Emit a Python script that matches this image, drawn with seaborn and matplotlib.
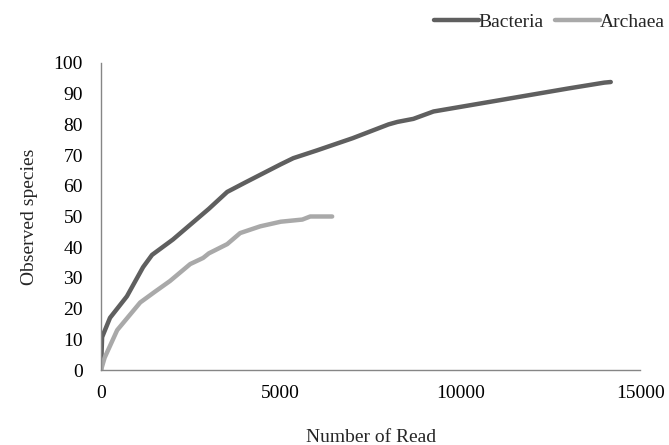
"""Rarefaction curves: Bacteria vs Archaea."""

import matplotlib.pyplot as plt
import pandas as pd
import seaborn as sns

bacteria_reads = [0, 30, 250, 720, 1170, 1420, 2000, 2500, 3000, 3510, 4000, 4500,
                  5000, 5350, 6000, 7000, 8000, 8245, 8690, 9250, 10000, 11000,
                  12000, 13000, 14000, 14180]
bacteria_species = [0, 10.7, 17, 24, 33.5, 37.5, 42.5, 47.5, 52.5, 58, 61, 64,
                    67, 69, 71.5, 75.5, 80, 80.8, 81.8, 84.2, 85.7, 87.7,
                    89.7, 91.7, 93.6, 93.8]

archaea_reads = [0, 100, 450, 1090, 1500, 1920, 2480, 2840, 3000, 3510, 3870,
                 4430, 5000, 5600, 5820, 6430]
archaea_species = [0, 4, 13, 22, 25.5, 29, 34.5, 36.5, 38, 41, 44.6,
                   46.8, 48.3, 49, 50, 50]

series_names = ["Bacteria", "Archaea"]
series_colors = ["#5f5f5f", "#a9a9a9"]

df = pd.concat(
    [
        pd.DataFrame({"reads": bacteria_reads, "species": bacteria_species, "group": "Bacteria"}),
        pd.DataFrame({"reads": archaea_reads, "species": archaea_species, "group": "Archaea"}),
    ],
    ignore_index=True,
)

sns.set_theme(style="white")
plt.rcParams["font.family"] = ["Liberation Serif", "DejaVu Serif"]
FS = 14

fig = plt.figure(figsize=(6.69, 4.45), dpi=100)
ax = fig.add_axes([0.151, 0.1685, 0.806, 0.69])

sns.lineplot(
    data=df,
    x="reads",
    y="species",
    hue="group",
    hue_order=series_names,
    palette=series_colors,
    linewidth=3.2,
    sort=False,
    estimator=None,
    ax=ax,
)
for line in ax.get_lines():
    line.set_solid_capstyle("round")
    line.set_solid_joinstyle("round")

ax.set_xlim(0, 15000)
ax.set_ylim(0, 100)
ax.set_xticks([0, 5000, 10000, 15000])
ax.set_yticks(range(0, 101, 10))
ax.tick_params(axis="both", length=0, labelsize=FS, colors="black")
ax.tick_params(axis="x", pad=11)
ax.tick_params(axis="y", pad=13)

for side in ["top", "right"]:
    ax.spines[side].set_visible(False)
for side in ["left", "bottom"]:
    ax.spines[side].set_color("#868686")
    ax.spines[side].set_linewidth(1)

ax.set_xlabel("Number of Read", fontsize=FS, labelpad=19)
ax.set_ylabel("Observed species", fontsize=FS, labelpad=11)

leg = ax.legend(
    loc="upper right",
    bbox_to_anchor=(1.0, 0.978),
    bbox_transform=fig.transFigure,
    borderaxespad=0,
    borderpad=0.2,
    ncol=2,
    frameon=False,
    handlelength=2.3,
    handletextpad=0.0,
    columnspacing=0.6,
    fontsize=FS,
)
for handle in leg.get_lines():
    handle.set_linewidth(3.2)

fig.savefig("out.png", dpi=100)
